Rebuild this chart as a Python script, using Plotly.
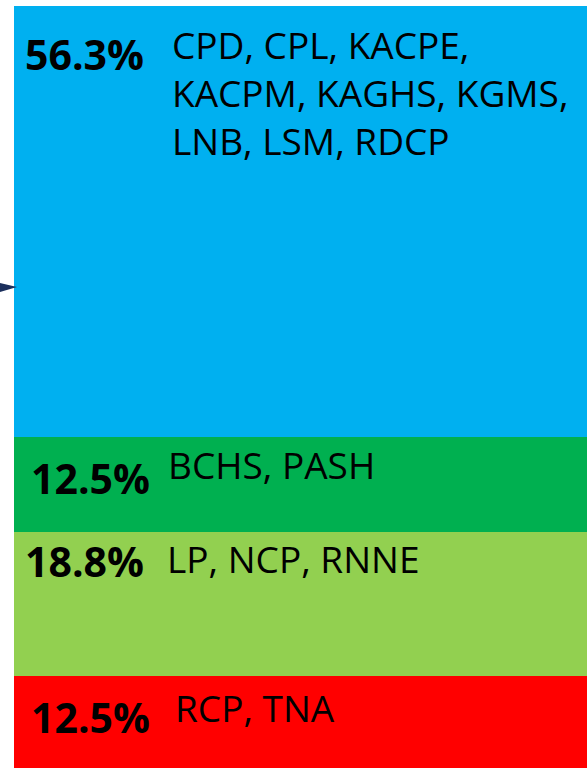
import plotly.graph_objects as go

# Data (bottom to top)
segments = ["RCP, TNA", "LP, NCP, RNNE", "BCHS, PASH",
            "CPD, CPL, KACPE,<br>KACPM, KAGHS, KGMS,<br>LNB, LSM, RDCP"]
values = [12.5, 18.8, 12.5, 56.3]
pct_labels = ["12.5%", "18.8%", "12.5%", "56.3%"]
colors = ["#FF0000", "#92D050", "#00B050", "#00B0F0"]

W, H = 587, 768

fig = go.Figure()
for name, v, c in zip(segments, values, colors):
    fig.add_trace(go.Bar(x=[0], y=[v], width=1, marker=dict(color=c, line=dict(width=0)),
                         name=name, hoverinfo="skip"))

ymin, ymax = 0.52, 100.88

# label layout (pixel offsets from the top of each segment)
pct_x = [29, 23, 29, 23]
pct_dy = [-41, -29, -41, -48]
cat_x = [173, 165, 166, 170]
cat_dy = [-31, -26, -28, -87]

annotations = []
cum = 0
for i, v in enumerate(values):
    cum += v
    annotations.append(dict(x=pct_x[i] / W, xref="paper", xanchor="left",
                            y=cum, yref="y", yanchor="middle", yshift=pct_dy[i],
                            text="<b>" + pct_labels[i] + "</b>", showarrow=False,
                            font=dict(family="Open Sans", size=41, color="black")))
    annotations.append(dict(x=cat_x[i] / W, xref="paper", xanchor="left",
                            y=cum, yref="y", yanchor="middle", yshift=cat_dy[i],
                            text=segments[i], showarrow=False, align="left",
                            font=dict(family="Open Sans", size=37, color="black")))

fig.update_layout(
    width=W, height=H, barmode="stack", bargap=0,
    margin=dict(l=0, r=0, t=0, b=0),
    paper_bgcolor="white", plot_bgcolor="white",
    showlegend=False,
    xaxis=dict(range=[-0.5 - 14 / 573, 0.5], visible=False, fixedrange=True),
    yaxis=dict(range=[ymin, ymax], visible=False, fixedrange=True),
    annotations=annotations,
    shapes=[dict(type="path", xref="paper", yref="paper",
                 path=f"M 0 {1-283/H} L {17/W} {1-287/H} L 0 {1-292/H} Z",
                 fillcolor="#1B2F5C", line=dict(width=0))],
)

fig.write_html("out.html", config={"responsive": False, "displayModeBar": False},
               post_script="document.body.style.margin='0';document.body.style.overflow='hidden';")
